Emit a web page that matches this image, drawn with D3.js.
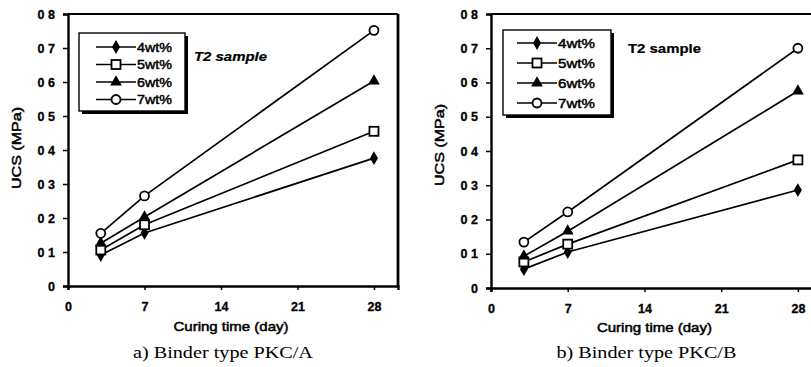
<!DOCTYPE html>
<html><head><meta charset="utf-8">
<script src="https://cdn.jsdelivr.net/npm/d3@7/dist/d3.min.js"></script>
<style>body{margin:0;background:#fff}svg{display:block}</style>
</head><body>
<svg id="c" width="811" height="367"></svg>
<script>
const days = [3, 7, 28];
const seriesNames = ["4wt%", "5wt%", "6wt%", "7wt%"];
const markerTypes = ["diamond", "square", "triangle", "circle"];
const pkcA = {
  "4wt%": [0.091, 0.156, 0.376],
  "5wt%": [0.106, 0.180, 0.455],
  "6wt%": [0.126, 0.203, 0.603],
  "7wt%": [0.155, 0.265, 0.752]
};
const pkcB = {
  "4wt%": [0.055, 0.105, 0.286],
  "5wt%": [0.076, 0.128, 0.374],
  "6wt%": [0.093, 0.166, 0.575],
  "7wt%": [0.134, 0.222, 0.700]
};
const xTicks = [0, 7, 14, 21, 28];
const yTicks = [0, 0.1, 0.2, 0.3, 0.4, 0.5, 0.6, 0.7, 0.8];
const yTickLabels = ["0", "0 1", "0 2", "0 3", "0 4", "0 5", "0 6", "0 7", "0 8"];
const captions = ["a) Binder type PKC/A", "b) Binder type PKC/B"];
const xTitle = "Curing time (day)";
const yTitle = "UCS (MPa)";
const note = "T2 sample";

const svg = d3.select("#c");
const sans = "'Liberation Sans', Arial, sans-serif";
const serif = "'Liberation Serif', 'Times New Roman', serif";

function heavy(sel, w) { return sel.attr("stroke", "#000").attr("stroke-width", w).attr("fill", "#000"); }

function marker(g, type, cx, cy) {
  if (type === "circle") {
    g.append("circle").attr("cx", cx).attr("cy", cy).attr("r", 4.5)
      .attr("fill", "#fff").attr("stroke", "#000").attr("stroke-width", 1.8);
  } else if (type === "square") {
    g.append("rect").attr("x", cx - 4.5).attr("y", cy - 4.5).attr("width", 9).attr("height", 9)
      .attr("fill", "#fff").attr("stroke", "#000").attr("stroke-width", 1.8);
  } else {
    const sym = type === "diamond" ? d3.symbolDiamond : d3.symbolTriangle;
    const size = type === "diamond" ? 55 : 60;
    g.append("path").attr("d", d3.symbol(sym, size)()).attr("transform", `translate(${cx},${cy})`)
      .attr("fill", "#000");
  }
}

function panel(cfg, data) {
  const x = d3.scaleLinear().domain([0, 30.2]).range([cfg.x0, cfg.x1]);
  const y = d3.scaleLinear().domain([0, 0.8]).range([cfg.y0, cfg.y1]);
  const g = svg.append("g");

  // frame
  g.append("line").attr("x1", x(0)).attr("x2", x(30.2)).attr("y1", y(0.8)).attr("y2", y(0.8))
    .attr("stroke", "#000").attr("stroke-width", 2);
  g.append("line").attr("x1", x(30.2)).attr("x2", x(30.2)).attr("y1", y(0.8)).attr("y2", y(0))
    .attr("stroke", "#000").attr("stroke-width", 2.8);

  // axes
  const xa = g.append("g").attr("transform", `translate(0,${y(0)})`)
    .call(d3.axisBottom(x).tickValues(xTicks).tickSize(4).tickPadding(12));
  xa.select(".domain").attr("stroke-width", 2.4);
  xa.selectAll(".tick line").attr("stroke-width", 1.5);
  heavy(xa.selectAll("text").attr("font-family", sans).attr("font-size", 12.5).attr("font-weight", "bold"), 0.3);

  const ya = g.append("g").attr("transform", `translate(${x(0)},0)`)
    .call(d3.axisLeft(y).tickValues(yTicks).tickFormat((d, i) => yTickLabels[i]).tickSize(5).tickPadding(8));
  ya.select(".domain").attr("stroke-width", 2.4);
  ya.selectAll(".tick line").attr("stroke-width", 1.5);
  heavy(ya.selectAll("text").attr("font-family", sans).attr("font-size", 12.5).attr("font-weight", "bold"), 0.3);
  svg.selectAll(".domain").attr("stroke", "#000");

  // titles
  heavy(g.append("text").attr("x", (x(0) + x(28)) / 2 + 10).attr("y", cfg.xTitleY).attr("text-anchor", "middle")
    .attr("font-family", sans).attr("font-size", 13).attr("textLength", 115).attr("lengthAdjust", "spacingAndGlyphs")
    .text(xTitle), 0.5);
  heavy(g.append("text").attr("transform", `translate(${cfg.yTitleX},${cfg.yTitleY}) rotate(-90)`).attr("text-anchor", "middle")
    .attr("font-family", sans).attr("font-size", 13).attr("textLength", 82).attr("lengthAdjust", "spacingAndGlyphs")
    .text(yTitle), 0.5);
  g.append("text").attr("x", (x(0) + x(28)) / 2 + 2).attr("y", 358).attr("text-anchor", "middle")
    .attr("font-family", serif).attr("font-size", 17).attr("textLength", 180).attr("lengthAdjust", "spacingAndGlyphs")
    .text(cfg.caption);

  // series
  const line = d3.line().x((d, i) => x(days[i])).y(d => y(d));
  seriesNames.forEach((s) => {
    g.append("path").attr("d", line(data[s])).attr("fill", "none").attr("stroke", "#000").attr("stroke-width", 1.7);
  });
  seriesNames.forEach((s, k) => {
    data[s].forEach((v, i) => marker(g, markerTypes[k], x(days[i]), y(v)));
  });

  // legend
  const L = cfg.legend;
  g.append("rect").attr("x", L.x + 3).attr("y", L.y + 3).attr("width", L.w).attr("height", L.h).attr("fill", "#000");
  g.append("rect").attr("x", L.x).attr("y", L.y).attr("width", L.w).attr("height", L.h)
    .attr("fill", "#fff").attr("stroke", "#000").attr("stroke-width", 1.4);
  seriesNames.forEach((s, k) => {
    const ly = L.y + L.first + k * L.step;
    g.append("line").attr("x1", L.x + L.l0).attr("x2", L.x + L.l1).attr("y1", ly).attr("y2", ly)
      .attr("stroke", "#000").attr("stroke-width", 1.7);
    marker(g, markerTypes[k], L.x + (L.l0 + L.l1) / 2, ly);
    heavy(g.append("text").attr("x", L.x + L.l1 + 1).attr("y", ly + 4.8)
      .attr("font-family", sans).attr("font-size", 12.5).attr("textLength", L.tw).attr("lengthAdjust", "spacingAndGlyphs")
      .text(s), 0.45);
  });
  heavy(g.append("text").attr("x", cfg.noteX).attr("y", cfg.noteY)
    .attr("font-family", sans).attr("font-size", 12).attr("font-weight", "bold").attr("font-style", cfg.noteItalic ? "italic" : "normal")
    .attr("textLength", 73).attr("lengthAdjust", "spacingAndGlyphs").text(note), 0.2);
}

panel({x0: 68, x1: 398, y0: 286, y1: 14, xTitleY: 331, yTitleX: 21, yTitleY: 148, caption: captions[0],
  noteX: 194, noteY: 61, noteItalic: true,
  legend: {x: 79, y: 33, w: 106, h: 78, first: 14, step: 17.5, l0: 17, l1: 57, tw: 35}}, pkcA);
panel({x0: 491, x1: 822, y0: 288, y1: 14, xTitleY: 332, yTitleX: 444, yTitleY: 145, caption: captions[1],
  noteX: 628, noteY: 53, noteItalic: false,
  legend: {x: 503, y: 30, w: 108, h: 85, first: 13, step: 20, l0: 14, l1: 54, tw: 37}}, pkcB);
</script>
</body></html>
